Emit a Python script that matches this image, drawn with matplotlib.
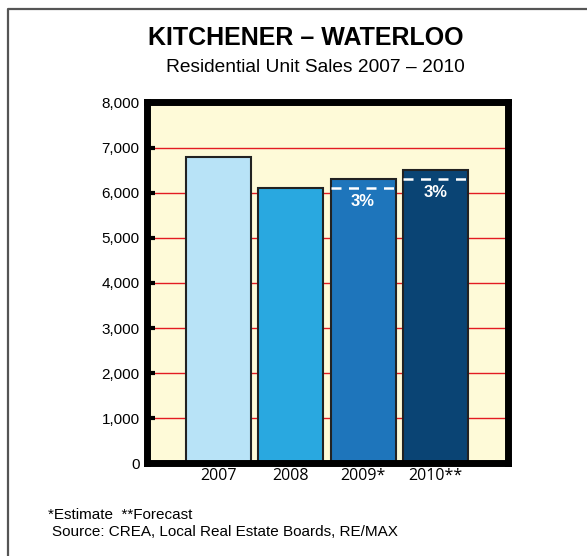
import matplotlib
matplotlib.use("Agg")
from matplotlib import pyplot as plt
from matplotlib.lines import Line2D

plt.rcParams["font.family"] = ["Liberation Sans", "DejaVu Sans"]

years = ["2007", "2008", "2009*", "2010**"]
sales = [6800, 6100, 6300, 6500]
prev_level = [None, None, 6100, 6300]   # dashed line = previous year's sales
growth = [None, None, "3%", "3%"]
bar_colors = ["#b8e3f7", "#29a8e0", "#1e75bb", "#0a4474"]
y_ticks = [0, 1000, 2000, 3000, 4000, 5000, 6000, 7000, 8000]

W, H = 587, 556
fig = plt.figure(figsize=(W / 100, H / 100), dpi=100)
ax = fig.add_axes([0.2496, 0.1664, 0.615, 0.6493])
ax.set_facecolor("#fefad8")

xs = list(range(len(years)))
ax.bar(xs, sales, width=0.9, color=bar_colors, edgecolor="#222222", linewidth=1.5, zorder=3)

for x, lvl, g in zip(xs, prev_level, growth):
    if lvl is None:
        continue
    ax.plot([x - 0.45, x + 0.45], [lvl, lvl], color="white", linewidth=1.8,
            linestyle=(0, (4, 3)), zorder=4)
    ax.text(x, lvl - 120, g, color="white", fontsize=12, fontweight="bold",
            ha="center", va="top", zorder=5)

ax.set_xlim(-1, 4)
ax.set_ylim(0, 8000)
ax.set_yticks(y_ticks)
ax.set_yticklabels([f"{v:,}" for v in y_ticks], fontsize=11)
ax.set_xticks(xs)
ax.set_xticklabels(years, fontsize=11.5, family=["Open Sans", "DejaVu Sans"])
ax.tick_params(axis="y", direction="in", length=6, width=3, color="black", pad=5)
ax.tick_params(axis="x", length=0, pad=3)
ax.grid(axis="y", color="#e31b23", linewidth=1.0, zorder=1)
ax.set_axisbelow(True)
for s in ax.spines.values():
    s.set_linewidth(5)
    s.set_color("black")
    s.set_zorder(6)

fig.text(306 / W, 1 - 38 / H, "KITCHENER \u2013 WATERLOO", ha="center", va="center",
         fontsize=18, fontweight="bold")
fig.text(315 / W, 1 - 68 / H, "Residential Unit Sales 2007 \u2013 2010", ha="center",
         va="center", fontsize=13.8)
fig.text(48 / W, 1 - 515 / H, "*Estimate  **Forecast", ha="left", va="center",
         fontsize=11)
fig.text(52 / W, 1 - 532 / H, "Source: CREA, Local Real Estate Boards, RE/MAX",
         ha="left", va="center", fontsize=11)

# partial frame around the graphic (left and top edges)
fig.add_artist(Line2D([8 / W, 8 / W, 1.0], [0.0, 1 - 9 / H, 1 - 9 / H],
                      transform=fig.transFigure, color="#555555", linewidth=1.6))

fig.savefig("out.png", dpi=100)
